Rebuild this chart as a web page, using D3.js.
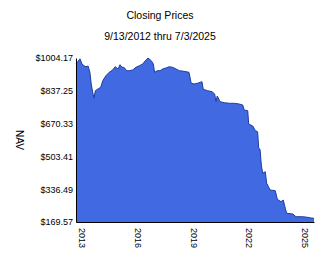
<!DOCTYPE html>
<html lang="en">
  <head>
    <meta charset="UTF-8" />
    <title>Closing Prices</title>
    <script src="https://d3js.org/d3.v7.min.js"></script>
    <style>
      body {
        margin: 0;
        background: #fff;
        font-family: "Liberation Sans", Arial, sans-serif;
      }
      svg text {
        fill: #000;
      }
    </style>
  </head>
  <body>
    <svg width="324" height="267"></svg>

    <script>
      // closing prices
      const dates = [
        "2012-09-13", "2012-12-01", "2013-01-08", "2013-02-17", "2013-03-28",
        "2013-05-08", "2013-06-13", "2013-07-09", "2013-08-07", "2013-09-02",
        "2013-09-28", "2013-11-18", "2014-01-12", "2014-02-21", "2014-04-23",
        "2014-06-28", "2014-09-02", "2014-10-23", "2014-12-17", "2015-01-26",
        "2015-03-04", "2015-04-13", "2015-06-07", "2015-07-28", "2015-10-01",
        "2015-12-06", "2016-02-10", "2016-04-16", "2016-06-06", "2016-07-28",
        "2016-10-01", "2016-11-10", "2016-12-05", "2017-01-26", "2017-03-22",
        "2017-05-12", "2017-07-16", "2017-09-20", "2017-11-24", "2018-01-30",
        "2018-04-06", "2018-07-05", "2018-10-12", "2018-11-24", "2019-01-19",
        "2019-03-25", "2019-06-24", "2019-07-19", "2019-10-11", "2020-01-08",
        "2020-02-28", "2020-03-25", "2020-04-19", "2020-06-13", "2020-09-05",
        "2020-12-13", "2021-03-22", "2021-06-25", "2021-09-02", "2021-10-01",
        "2021-12-09", "2021-12-28", "2022-03-18", "2022-05-08", "2022-06-21",
        "2022-07-13", "2022-08-08", "2022-09-02", "2022-09-28", "2022-11-18",
        "2022-12-17", "2023-02-21", "2023-06-03", "2023-07-13", "2023-09-24",
        "2023-11-07", "2023-12-17", "2024-01-12", "2024-05-12", "2024-07-13",
        "2024-11-21", "2025-02-28", "2025-05-05", "2025-07-03",
      ];
      const nav = [
        973.6, 1000.0, 973.6, 965.0, 960.0,
        963.5, 931.4, 871.8, 829.6, 799.6,
        837.8, 846.4, 855.1, 888.7, 914.0,
        931.4, 943.1, 959.9, 948.2, 970.1,
        956.8, 956.8, 939.5, 939.5, 943.1,
        956.8, 965.0, 973.6, 990.4, 1004.17,
        990.4, 973.6, 931.4, 939.5, 939.5,
        948.2, 953.3, 959.9, 956.8, 948.2,
        939.5, 936.5, 931.4, 875.4, 871.8,
        875.4, 883.5, 844.9, 837.8, 832.7,
        821.0, 781.8, 810.8, 781.8, 776.7,
        773.6, 773.6, 770.0, 765.0, 739.5,
        736.0, 668.3, 658.1, 634.2, 629.1,
        544.6, 539.5, 459.6, 417.4, 425.5,
        366.5, 332.4, 328.9, 285.1, 272.9,
        281.5, 239.3, 213.8, 210.3, 196.5,
        196.5, 193.5, 189.9, 188.4,
      ];
      const yTicks = [169.57, 336.49, 503.41, 670.33, 837.25, 1004.17];
      const xTicks = ["2013", "2016", "2019", "2022", "2025"];

      const svg = d3.select("svg");
      const margin = { top: 58, right: 10, bottom: 45, left: 76 };
      const width = +svg.attr("width");
      const height = +svg.attr("height");

      const parse = d3.timeParse("%Y-%m-%d");
      const data = dates.map((d, i) => ({ date: parse(d), value: nav[i] }));

      const x = d3
        .scaleTime()
        .domain(d3.extent(data, (d) => d.date))
        .range([margin.left, width - margin.right]);

      const y = d3
        .scaleLinear()
        .domain([yTicks[0], yTicks[yTicks.length - 1]])
        .range([height - margin.bottom, margin.top]);

      // titles
      svg
        .append("text")
        .attr("x", 160)
        .attr("y", 19)
        .attr("text-anchor", "middle")
        .attr("font-size", "10.5px")
        .text("Closing Prices");

      svg
        .append("text")
        .attr("x", 160)
        .attr("y", 40)
        .attr("text-anchor", "middle")
        .attr("font-size", "10.5px")
        .text("9/13/2012 thru 7/3/2025");

      // area
      const area = d3
        .area()
        .x((d) => x(d.date))
        .y0(y(yTicks[0]))
        .y1((d) => y(d.value));

      const line = d3
        .line()
        .x((d) => x(d.date))
        .y((d) => y(d.value));

      svg
        .append("path")
        .datum(data)
        .attr("fill", "#4169e1")
        .attr("d", area);

      svg
        .append("path")
        .datum(data)
        .attr("fill", "none")
        .attr("stroke", "#1f3d9e")
        .attr("stroke-width", 1)
        .attr("d", line);

      // y axis
      const yAxis = svg
        .append("g")
        .attr("transform", `translate(${margin.left},0)`)
        .call(
          d3
            .axisLeft(y)
            .tickValues(yTicks)
            .tickSize(0)
            .tickPadding(3)
            .tickFormat((d) => "$" + d.toFixed(2))
        );
      yAxis.select(".domain").attr("stroke", "#000");
      yAxis
        .selectAll("text")
        .attr("font-family", "Liberation Sans, Arial, sans-serif")
        .attr("font-size", "9px");

      // x axis
      const xAxis = svg
        .append("g")
        .attr("transform", `translate(0,${height - margin.bottom})`)
        .call(
          d3
            .axisBottom(x)
            .tickValues(xTicks.map((t) => parse(t + "-01-01")))
            .tickSize(0)
            .tickFormat(d3.timeFormat("%Y"))
        );
      xAxis.select(".domain").attr("stroke", "#000");
      xAxis
        .selectAll("text")
        .attr("font-family", "Liberation Sans, Arial, sans-serif")
        .attr("font-size", "9px")
        .attr("text-anchor", "start")
        .attr("dy", null)
        .attr("y", 0)
        .attr("dominant-baseline", "central")
        .attr("transform", "translate(0,6) rotate(90)");

      // y label
      svg
        .append("text")
        .attr("transform", "translate(19,140) rotate(90)")
        .attr("text-anchor", "middle")
        .attr("dominant-baseline", "central")
        .attr("font-size", "10px")
        .text("NAV");
    </script>
  </body>
</html>
